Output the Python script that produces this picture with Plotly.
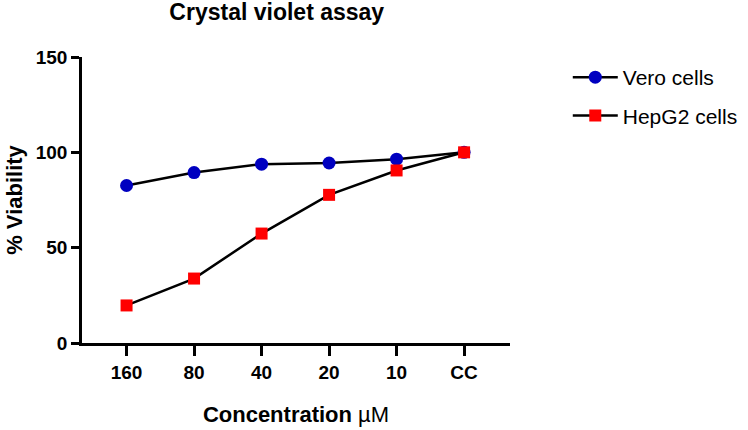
import plotly.graph_objects as go

categories = ["160", "80", "40", "20", "10", "CC"]
vero = [82.6, 89.4, 93.8, 94.4, 96.4, 100.0]
hepg2 = [19.7, 33.8, 57.4, 77.7, 90.5, 100.0]

FONT = "Arial, Liberation Sans, sans-serif"

fig = go.Figure()
fig.add_trace(go.Scatter(
    x=categories, y=vero, name="Vero cells", mode="lines+markers",
    line=dict(color="black", width=2.5),
    marker=dict(symbol="circle", size=13, color="#0000C0"),
    legendgroup="a",
))
fig.add_trace(go.Scatter(
    x=categories, y=hepg2, name="HepG2 cells", mode="lines+markers",
    line=dict(color="black", width=2.5),
    marker=dict(symbol="square", size=12, color="#FF0000"),
    legendgroup="b",
))

fig.update_layout(
    width=748, height=430,
    margin=dict(l=82, r=238, t=57, b=87, autoexpand=False),
    paper_bgcolor="white", plot_bgcolor="white",
    font=dict(family=FONT, color="black"),
    title=dict(text="<b>Crystal violet assay</b>", x=0.37, xanchor="center",
               y=0.972, yanchor="middle", font=dict(size=23, family=FONT)),
    showlegend=True,
    legend=dict(x=1.135, xanchor="left", y=1.0, yanchor="top",
                font=dict(size=21, family=FONT), tracegroupgap=8,
                itemwidth=45,
                bgcolor="rgba(0,0,0,0)"),
    xaxis=dict(
        type="category", range=[-0.66, 5.68], automargin=False,
        showline=True, linecolor="black", linewidth=2.5,
        ticks="outside", ticklen=10, tickwidth=2.5, tickcolor="black",
        tickfont=dict(size=19, family=FONT, weight="bold"),
        showgrid=False, zeroline=False,
        title=dict(text="<b>Concentration</b> µM", font=dict(size=22, family=FONT), standoff=26),
    ),
    yaxis=dict(
        range=[0, 150], tickvals=[0, 50, 100, 150], automargin=False,
        showline=True, linecolor="black", linewidth=2.5,
        ticks="outside", ticklen=8, tickwidth=2.5, tickcolor="black",
        tickfont=dict(size=19, family=FONT, weight="bold"),
        showgrid=False, zeroline=False,
        title=dict(text="<b>% Viability</b>", font=dict(size=22, family=FONT), standoff=8),
    ),
)

fig.write_html("out.html")
